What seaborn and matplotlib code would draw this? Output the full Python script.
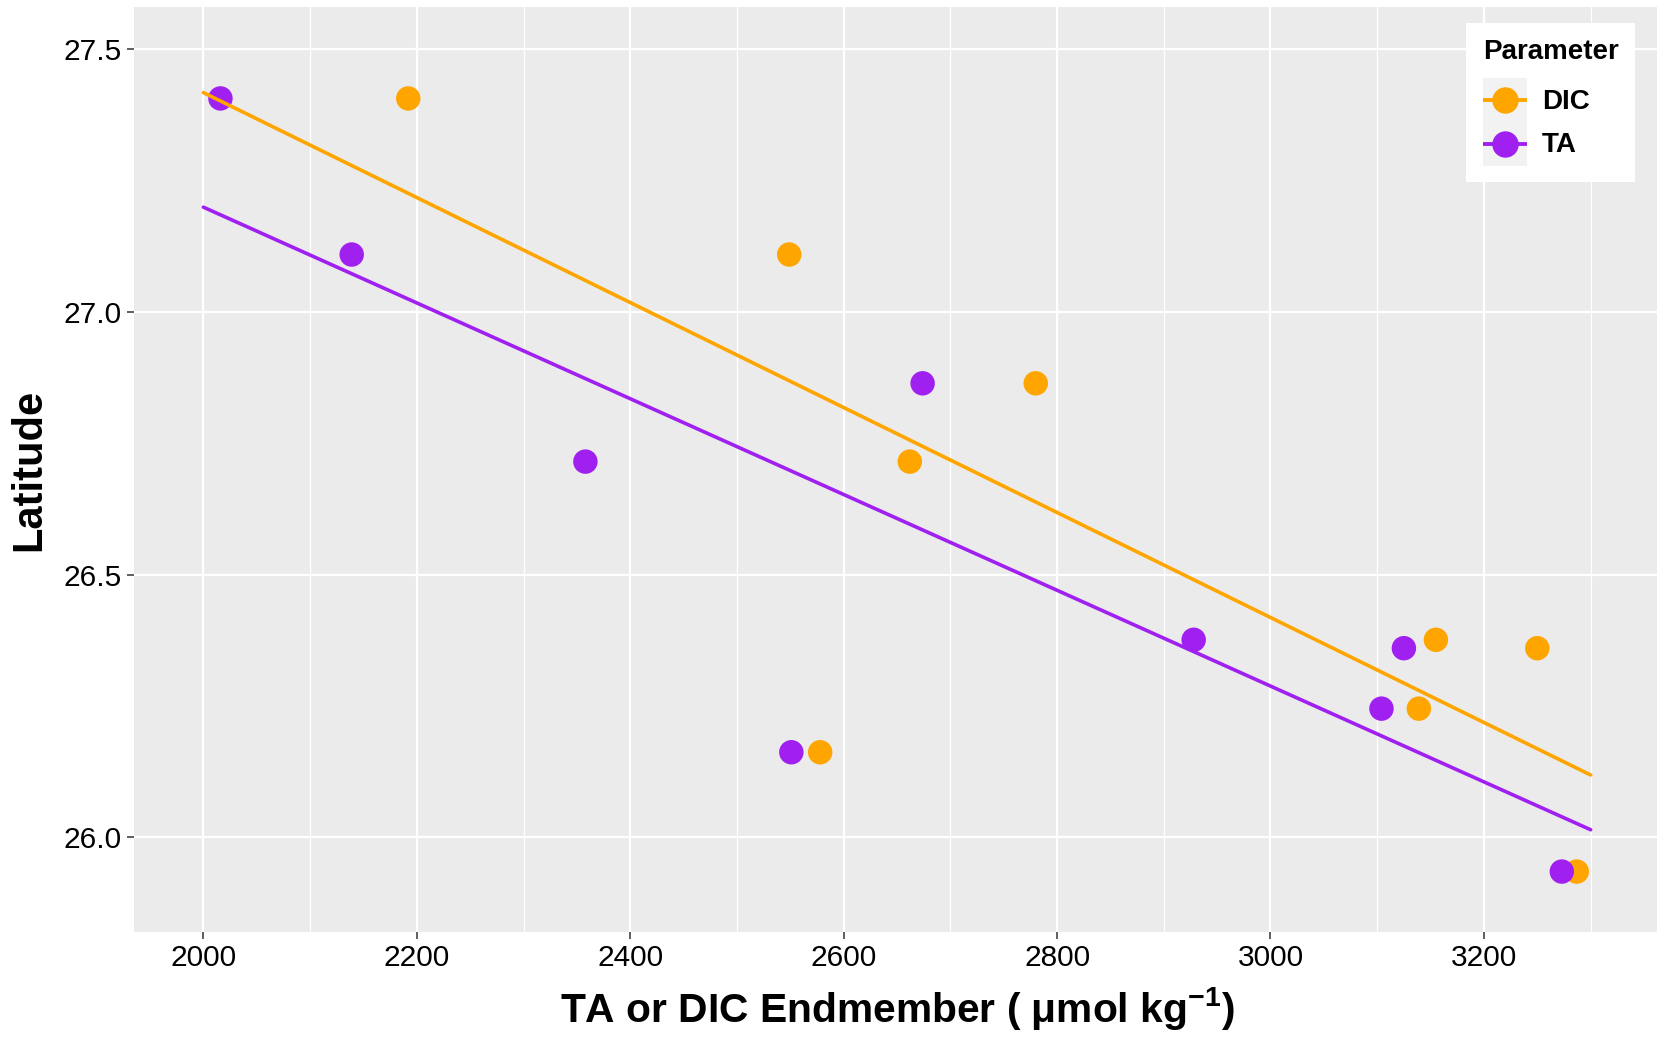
import numpy as np
import pandas as pd
import matplotlib
matplotlib.use("Agg")
import matplotlib.pyplot as plt
import seaborn as sns
from matplotlib.legend_handler import HandlerBase
from matplotlib.patches import Rectangle
from matplotlib.lines import Line2D

# Station latitudes and the fitted TA / DIC endmembers at each station
latitude = [27.406, 27.109, 26.864, 26.715, 26.376, 26.360, 26.245, 26.162, 25.935]
ta_endmember = [2016, 2139, 2674, 2358, 2928, 3125, 3104, 2551, 3273]
dic_endmember = [2192, 2549, 2780, 2662, 3155, 3250, 3139, 2578, 3287]

parameters = ["DIC", "TA"]
colors = {"DIC": "#FFA500", "TA": "#A020F0"}

x_limits = (2000, 3300)
y_limits = (25.9, 27.5)
x_ticks = [2000, 2200, 2400, 2600, 2800, 3000, 3200]
x_minor_ticks = [2100, 2300, 2500, 2700, 2900, 3100, 3300]
y_ticks = [26.0, 26.5, 27.0, 27.5]
y_tick_labels = ["26.0", "26.5", "27.0", "27.5"]

df = pd.DataFrame({
    "Endmember": dic_endmember + ta_endmember,
    "Latitude": latitude + latitude,
    "Parameter": ["DIC"] * len(dic_endmember) + ["TA"] * len(ta_endmember),
})

sns.set_theme(style="darkgrid")
plt.rcParams["font.family"] = ["Liberation Sans", "DejaVu Sans"]
plt.rcParams["mathtext.default"] = "regular"
plt.rcParams["text.color"] = "black"

fig = plt.figure(figsize=(16.58, 10.38), dpi=100)
ax = fig.add_axes([134 / 1658, 1 - 932 / 1038, (1660 - 134) / 1658, (932 - 7) / 1038])
ax.set_facecolor("#EBEBEB")

# Points
sns.scatterplot(data=df, x="Endmember", y="Latitude", hue="Parameter",
                palette=colors, s=310, linewidth=0, ax=ax, legend=False, zorder=3)

# Least-squares fit per parameter, drawn across the full x range
xs = np.linspace(x_limits[0], x_limits[1], 60)
fit_frames = []
for p in parameters:
    sub = df[df["Parameter"] == p]
    slope, intercept = np.polyfit(sub["Endmember"], sub["Latitude"], 1)
    fit_frames.append(pd.DataFrame({"Endmember": xs,
                                    "Latitude": intercept + slope * xs,
                                    "Parameter": p}))
fit_df = pd.concat(fit_frames, ignore_index=True)
sns.lineplot(data=fit_df, x="Endmember", y="Latitude", hue="Parameter",
             palette=colors, linewidth=2.6, ax=ax, legend=False, zorder=4)

# Scales with 5% expansion
xpad = 0.05 * (x_limits[1] - x_limits[0])
ypad = 0.05 * (y_limits[1] - y_limits[0])
ax.set_xlim(x_limits[0] - xpad, x_limits[1] + xpad)
ax.set_ylim(y_limits[0] - ypad, y_limits[1] + ypad)
ax.set_xticks(x_ticks)
ax.set_xticks(x_minor_ticks, minor=True)
ax.set_yticks(y_ticks)
ax.set_yticklabels(y_tick_labels)

ax.grid(False)
ax.grid(which="major", color="white", linewidth=1.6)
ax.xaxis.grid(which="minor", color="white", linewidth=0.9)
for s in ax.spines.values():
    s.set_visible(False)

ax.tick_params(which="major", bottom=True, left=True, length=5, width=1.1,
               color="#333333", labelsize=21.5, labelcolor="black", pad=4)
ax.tick_params(which="minor", length=0)

ax.set_xlabel("TA or DIC Endmember ( μmol kg$^{-1}$)", fontsize=29.3,
              fontweight="bold", color="black", labelpad=9)
ax.set_ylabel("Latitude", fontsize=30, fontweight="bold", color="black", labelpad=10)


class KeyHandler(HandlerBase):
    def create_artists(self, legend, orig_handle, xdescent, ydescent,
                       width, height, fontsize, trans):
        c = orig_handle.get_color()
        bg = Rectangle((-xdescent, -ydescent), width, height,
                       facecolor="#F2F2F2", edgecolor="none", transform=trans)
        y = -ydescent + height / 2
        line = Line2D([-xdescent, -xdescent + width], [y, y], color=c, lw=2.8,
                      solid_capstyle="butt", transform=trans)
        dot = Line2D([-xdescent + width / 2], [y], marker="o", markersize=19,
                     color=c, markeredgewidth=0, linestyle="none", transform=trans)
        return [bg, line, dot]


handles = [Line2D([], [], color=colors[p]) for p in parameters]
leg = ax.legend(handles, parameters, handler_map={Line2D: KeyHandler()},
                title="Parameter", loc="upper right",
                bbox_to_anchor=(0.9838, 0.983), borderaxespad=0,
                prop={"weight": "bold", "size": 20},
                title_fontproperties={"weight": "bold", "size": 20},
                frameon=True, fancybox=False, framealpha=1,
                facecolor="white", edgecolor="none",
                borderpad=0.6, handlelength=1.58, handleheight=2.05,
                handletextpad=0.55, labelspacing=0, alignment="left",
                labelcolor="black")
leg.get_title().set_color("black")
leg._legend_box.sep = 9
leg.set_zorder(10)

fig.savefig("out.png", dpi=100, facecolor="white")
